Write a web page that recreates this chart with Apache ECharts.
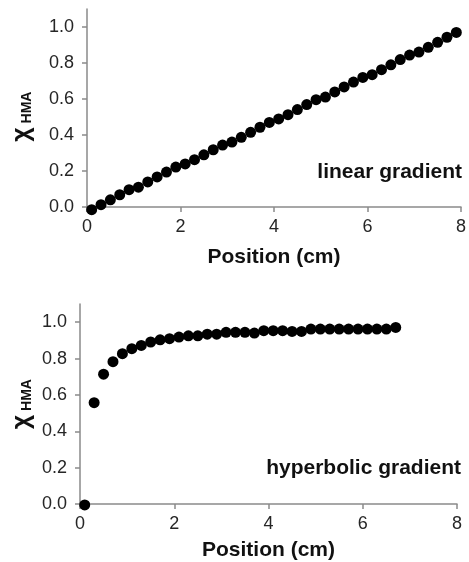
<!DOCTYPE html>
<html>
<head>
<meta charset="utf-8">
<script src="https://cdn.jsdelivr.net/npm/echarts@6/dist/echarts.min.js"></script>
<style>
html,body{margin:0;padding:0;background:#fff;}
#chart{width:469px;height:562px;}
</style>
</head>
<body>
<div id="chart"></div>
<script>
// Position (cm)
const linearX = [0.1,0.3,0.5,0.7,0.9,1.1,1.3,1.5,1.7,1.9,2.1,2.3,2.5,2.7,2.9,3.1,3.3,3.5,3.7,3.9,4.1,4.3,4.5,4.7,4.9,5.1,5.3,5.5,5.7,5.9,6.1,6.3,6.5,6.7,6.9,7.1,7.3,7.5,7.7,7.9];
const linearY = [-0.015,0.013,0.040,0.068,0.096,0.110,0.139,0.167,0.194,0.222,0.239,0.263,0.290,0.318,0.344,0.361,0.387,0.415,0.443,0.470,0.489,0.513,0.541,0.569,0.596,0.611,0.639,0.667,0.694,0.720,0.735,0.763,0.790,0.819,0.844,0.861,0.887,0.915,0.943,0.970];
const hyperX = [0.1,0.3,0.5,0.7,0.9,1.1,1.3,1.5,1.7,1.9,2.1,2.3,2.5,2.7,2.9,3.1,3.3,3.5,3.7,3.9,4.1,4.3,4.5,4.7,4.9,5.1,5.3,5.5,5.7,5.9,6.1,6.3,6.5,6.7];
const hyperY = [-0.005,0.557,0.714,0.783,0.827,0.854,0.872,0.891,0.903,0.909,0.918,0.925,0.925,0.934,0.934,0.944,0.944,0.944,0.940,0.953,0.953,0.953,0.949,0.949,0.962,0.962,0.962,0.962,0.962,0.962,0.962,0.962,0.962,0.971];
const yTicks = [0,0.2,0.4,0.6,0.8,1.0];
const xTicks = [0,2,4,6,8];
const xTitle = 'Position (cm)';
const yTitleMain = 'χ';
const yTitleSub = 'HMA';
const panelLabels = ['linear gradient','hyperbolic gradient'];

const axisColor = '#8a8a8a';
const labelColor = '#262626';
const FONT = 'Liberation Sans, Arial, sans-serif';

function zip(a,b){ return a.map((v,i)=>[v,b[i]]); }

function xAxisDef(gridIndex, gap){
  return {
    type:'value', gridIndex, min:0, max:8, interval:2,
    axisLine:{show:true,onZero:false,lineStyle:{color:axisColor,width:1.5}},
    axisTick:{show:true,length:5,inside:false,lineStyle:{color:axisColor,width:1.5},customValues:xTicks},
    axisLabel:{color:labelColor,fontSize:18,fontFamily:FONT,margin:11,customValues:xTicks,formatter:v=>String(v)},
    splitLine:{show:false},
    name:xTitle, nameLocation:'middle', nameGap:gap,
    nameTextStyle:{fontSize:21,fontWeight:'bold',color:'#111',fontFamily:FONT}
  };
}
function yAxisDef(gridIndex){
  return {
    type:'value', gridIndex, min:0, max:1.1,
    axisLine:{show:true,onZero:false,lineStyle:{color:axisColor,width:1.5}},
    axisTick:{show:true,length:5,lineStyle:{color:axisColor,width:1.5},customValues:yTicks},
    axisLabel:{color:labelColor,fontSize:18,fontFamily:FONT,margin:13,customValues:yTicks,formatter:v=>v.toFixed(1)},
    splitLine:{show:false}
  };
}
function yTitle(cy){
  return [
    {type:'text', x:22, y:cy+17, rotation:Math.PI/2,
      style:{text:yTitleMain, align:'center', verticalAlign:'middle',
        fontSize:25, fontWeight:'bold', fill:'#111', fontFamily:FONT}},
    {type:'text', x:27, y:cy-10, rotation:Math.PI/2,
      style:{text:yTitleSub, align:'center', verticalAlign:'middle',
        fontSize:14, fontWeight:'bold', fill:'#111', fontFamily:FONT}}
  ];
}
function panelText(i,x,y){
  return {type:'text', x, y, style:{text:panelLabels[i], align:'right', verticalAlign:'middle',
    fontSize:21, fontWeight:'bold', fill:'#111', fontFamily:FONT}};
}

const chart = echarts.init(document.getElementById('chart'), null, {renderer:'canvas'});
chart.setOption({
  animation:false,
  backgroundColor:'#fff',
  grid:[
    {left:87, right:5, top:9, height:198},
    {left:80, right:12, top:304, height:201}
  ],
  xAxis:[xAxisDef(0,40), xAxisDef(1,36)],
  yAxis:[yAxisDef(0), yAxisDef(1)],
  series:[
    {type:'scatter', xAxisIndex:0, yAxisIndex:0, data:zip(linearX,linearY), symbolSize:11, itemStyle:{color:'#000',opacity:1}, clip:false},
    {type:'scatter', xAxisIndex:1, yAxisIndex:1, data:zip(hyperX,hyperY), symbolSize:11, itemStyle:{color:'#000',opacity:1}, clip:false}
  ],
  graphic:[
    ...yTitle(117.5), ...yTitle(405),
    panelText(0,462,172), panelText(1,461,468)
  ]
});
</script>
</body>
</html>
